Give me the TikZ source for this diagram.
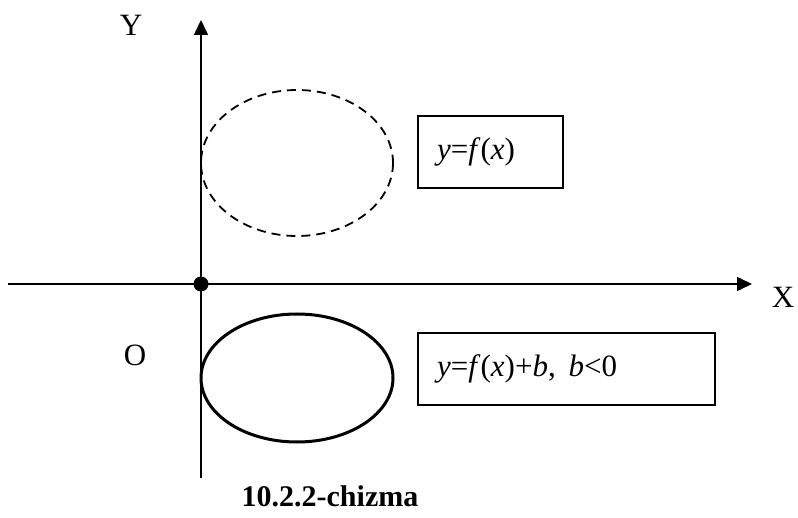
\documentclass[tikz,border=0pt]{standalone}
\usepackage{fontspec}
\setmainfont{Liberation Serif}
\usetikzlibrary{arrows.meta}
\begin{document}
\begin{tikzpicture}[x=1pt,y=-1pt,
  axis/.style={line width=1.6pt,-{Triangle[length=15pt,width=14pt]}},
  lbl/.style={font=\fontsize{31}{33}\selectfont,inner sep=0pt},
  fbox/.style={draw,line width=1.6pt,minimum height=72pt,anchor=north west,inner sep=0pt}]
\useasboundingbox (0,0) rectangle (798,518);
\coordinate (o) at (201,284);
\coordinate (xs) at (8,284);
\coordinate (xe) at (752,284);
\coordinate (ys) at (201,478);
\coordinate (ye) at (201,20);
\draw[axis] (xs) -- (xe);
\draw[axis] (ys) -- (ye);
\fill (o) circle (7.5pt);
\draw[line width=1.8pt,dash pattern=on 9pt off 6pt] (297,163) ellipse [x radius=96, y radius=73];
\draw[line width=3pt] (297,378) ellipse [x radius=96, y radius=64];
\node[fbox,minimum width=145pt] (b1) at (417,115) {};
\node[lbl,anchor=west] (t1) at (437,152) {\textit{y}=\textit{f}(\textit{x})};
\node[lbl,anchor=west] (t2) at (437,369) {\textit{y}=\textit{f}(\textit{x})+\textit{b},\, \textit{b}<0};
\node[fbox,minimum width=297pt] (b2) at (417,332) {};
\node[lbl] (Y) at (131,25) {Y};
\node[lbl] (X) at (783,297) {X};
\node[lbl] (O) at (135,355) {O};
\node[lbl,font=\fontsize{30}{32}\selectfont\bfseries] (cap) at (330,496) {10.2.2-chizma};
\end{tikzpicture}
\end{document}
